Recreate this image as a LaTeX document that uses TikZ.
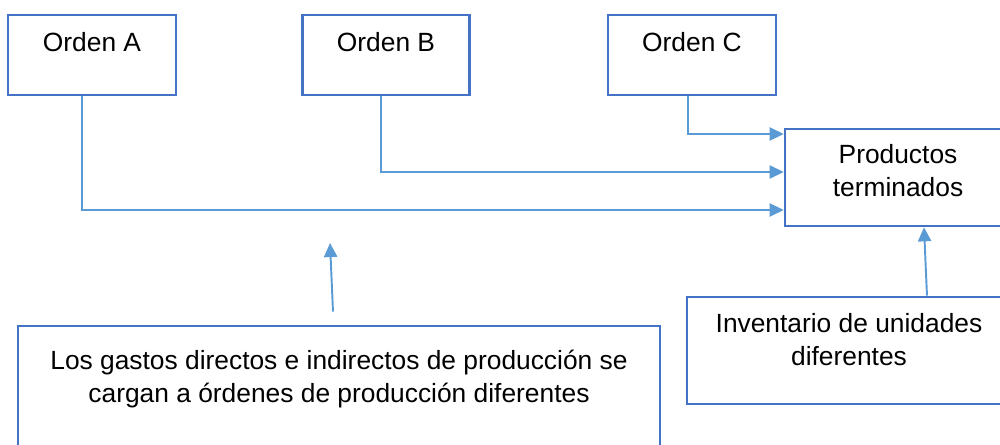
\documentclass[tikz,border=0pt]{standalone}
\usepackage{fontspec}
\setmainfont{Liberation Sans}
\usetikzlibrary{arrows.meta}

\definecolor{boxblue}{HTML}{4472C4}
\definecolor{linkblue}{HTML}{5B9BD5}

\begin{document}
\begin{tikzpicture}[x=0.02cm,y=-0.02cm,
  box/.style={draw=boxblue,line width=1.5pt,rectangle,anchor=base,inner ysep=0pt,align=center,font=\fontsize{15}{19}\selectfont},
  link/.style={draw=linkblue,line width=1.1pt,-{Triangle[length=8pt,width=7.5pt]}}]
\useasboundingbox (0,0) rectangle (1000,445);
\clip (0,0) rectangle (1000,445);

\node[box,minimum width=3.36cm,text height=0.74cm,text depth=0.86cm] at (92,52) (ordA) {Orden A};

\node[box,minimum width=3.34cm,text height=0.74cm,text depth=0.86cm] at (386,52) (ordB) {Orden B};

\node[box,minimum width=3.36cm,text height=0.74cm,text depth=0.86cm] at (692,52) (ordC) {Orden C};

\node[box,minimum width=4.52cm,text height=1.36cm,text depth=0.58cm] at (898,197) (prod) {Productos\\terminados};

\node[box,minimum width=6.48cm,text height=1.38cm,text depth=0.76cm] at (849,366) (inv) {Inventario de unidades\\diferentes};

\node[box,minimum width=12.84cm,text height=1.54cm,text depth=1.14cm] at (339,403) (gastos) {Los gastos directos e indirectos de producción se\\cargan a órdenes de producción diferentes};

\coordinate (cargo) at (330,243);

\draw[link] ([xshift=-0.08cm]ordC.south) |- ([yshift=0.87cm]prod.west);
\draw[link] ([xshift=-0.1cm]ordB.south) |- ([yshift=0.11cm]prod.west);
\draw[link] ([xshift=-0.2cm]ordA.south) |- ([yshift=-0.65cm]prod.west);

\draw[link] ([xshift=-0.12cm,yshift=0.26cm]gastos.north) -- (cargo);
\draw[link] ([xshift=1.56cm]inv.north) -- ([xshift=0.52cm]prod.south);
\end{tikzpicture}
\end{document}
